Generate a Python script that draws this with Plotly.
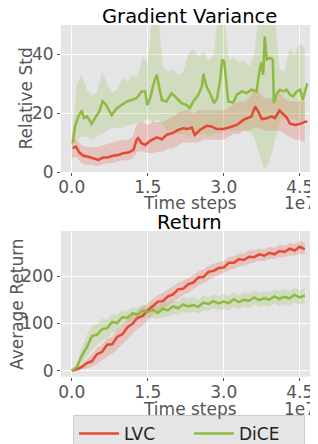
import plotly.graph_objects as go

# ---------------- data (x in units of 1e7 time steps) ----------------
# Gradient Variance (top) – mean curves
lvc_var_x = [0.02, 0.085, 0.15, 0.23, 0.33, 0.43, 0.525, 0.62, 0.72, 0.82, 0.92, 1.02, 1.12, 1.22, 1.28, 1.31,
             1.38, 1.45, 1.55, 1.68, 1.78, 1.87, 2.01, 2.10, 2.20, 2.28, 2.37, 2.43, 2.53, 2.66, 2.76, 2.86,
             2.99, 3.12, 3.26, 3.39, 3.49, 3.55, 3.62, 3.68, 3.75, 3.85, 3.95, 4.01, 4.10, 4.18, 4.24, 4.31,
             4.41, 4.51, 4.60, 4.65]
lvc_var_y = [8.1, 8.6, 6.6, 5.5, 5.2, 4.7, 4.1, 4.9, 5.0, 5.5, 5.8, 6.4, 6.6, 7.5, 10.9, 11.5,
             9.8, 9.2, 10.6, 11.8, 11.1, 12.6, 13.4, 14.3, 14.9, 14.6, 15.1, 12.6, 14.3, 15.7, 15.5, 14.6,
             14.6, 15.2, 16.0, 17.7, 18.5, 18.9, 22.3, 20.6, 18.0, 18.3, 18.9, 18.3, 20.9, 19.4, 18.6, 16.4,
             16.0, 16.4, 17.1, 17.1]
dice_var_x = [0.02, 0.065, 0.13, 0.20, 0.24, 0.30, 0.35, 0.39, 0.46, 0.545, 0.61, 0.68, 0.76, 0.79, 0.89, 0.99,
              1.09, 1.18, 1.28, 1.38, 1.45, 1.49, 1.55, 1.62, 1.68, 1.73, 1.78, 1.87, 1.97, 2.07, 2.17, 2.27,
              2.33, 2.40, 2.50, 2.57, 2.60, 2.66, 2.73, 2.81, 2.87, 2.93, 2.97, 3.01, 3.06, 3.09, 3.19, 3.26,
              3.36, 3.45, 3.55, 3.65, 3.70, 3.74, 3.78, 3.81, 3.85, 3.91, 3.97, 3.99, 4.05, 4.11, 4.18, 4.24,
              4.31, 4.37, 4.44, 4.51, 4.56, 4.60, 4.65]
dice_var_y = [9.8, 15.4, 18.9, 20.9, 18.3, 18.9, 17.7, 16.4, 18.3, 20.6, 24.0, 22.8, 20.2, 19.4, 21.7, 22.8,
              24.0, 24.5, 25.1, 27.4, 27.4, 22.8, 25.1, 30.2, 33.1, 28.5, 24.5, 24.0, 26.8, 25.1, 23.4, 22.8,
              21.7, 24.0, 26.3, 29.1, 33.4, 29.1, 26.8, 23.4, 25.1, 31.4, 38.2, 37.6, 29.1, 24.0, 23.6, 26.3,
              27.4, 26.8, 28.0, 27.4, 33.7, 37.3, 33.1, 46.1, 38.2, 38.8, 38.2, 23.4, 26.8, 28.0, 27.4, 28.0,
              26.3, 25.7, 27.4, 28.0, 24.5, 27.4, 30.2]

# Gradient Variance – shaded bands (x grid 0.0 .. 4.6 step 0.1)
band_x = [0.0, 0.1, 0.2, 0.3, 0.4, 0.5, 0.6, 0.7, 0.8, 0.9, 1.0, 1.1, 1.2, 1.3, 1.4, 1.5, 1.6, 1.7, 1.8, 1.9,
          2.0, 2.1, 2.2, 2.3, 2.4, 2.5, 2.6, 2.7, 2.8, 2.9, 3.0, 3.1, 3.2, 3.3, 3.4, 3.5, 3.6, 3.7, 3.8, 3.9,
          4.0, 4.1, 4.2, 4.3, 4.4, 4.5, 4.6]
lvc_var_lo = [5, 5, 3, 2.5, 2.5, 2, 2.5, 3, 3, 3.5, 4, 4, 4.5, 7, 7, 6.5, 6.5, 7, 7, 8,
              8, 9, 10, 10, 10, 10, 11, 11, 11, 11, 11, 12, 13, 13, 14, 14, 15, 15, 14, 14,
              14, 14, 13, 12, 11, 11, 10]
lvc_var_hi = [12, 11, 9, 8.5, 8.5, 8.5, 9, 9.5, 10, 10.5, 11, 11, 12, 17, 17, 16, 17, 17, 17, 18,
              19, 20, 21, 21, 20, 21, 21, 21, 21, 21, 21, 22, 23, 24, 24, 25, 28, 27, 25, 25,
              26, 27, 25, 24, 24, 24, 24]
dice_var_lo = [9, 11, 12, 12, 11, 12, 13, 14, 15, 15, 15, 16, 16, 17, 17, 18, 17, 18, 16, 14,
               13, 13, 13, 12, 13, 13, 13, 12, 13, 13, 14, 14, 14, 14, 14, 14, 12, 6, 1, 3,
               10, 17, 18, 18, 18, 17, 18]
dice_var_hi = [12, 30, 33, 28, 26, 27, 34, 30, 27, 28, 32, 31, 33, 32, 39, 37, 55, 55, 36, 34,
               35, 33, 34, 40, 42, 39, 41, 38, 40, 55, 55, 38, 39, 37, 38, 36, 40, 55, 55, 55,
               55, 35, 34, 42, 40, 44, 42]

# Return (bottom) – x grid 0.0 .. 4.6 step 0.1
ret_x = band_x
lvc_ret = [0, 3, 8, 16, 20, 35, 40, 55, 56, 72, 77, 92, 99, 112, 116, 128, 136, 146, 147, 157,
           161, 172, 173, 183, 186, 197, 198, 209, 211, 217, 218, 228, 228, 236, 234, 241, 240, 246, 243, 249,
           246, 253, 251, 258, 254, 262, 257]
lvc_ret_lo = [0, 0, 2, 5, 8, 15, 22, 30, 36, 45, 55, 66, 78, 88, 95, 105, 118, 126, 132, 138,
              146, 152, 160, 165, 172, 180, 185, 192, 198, 202, 206, 212, 216, 220, 222, 226, 229, 232, 232, 236,
              236, 240, 240, 244, 244, 246, 246]
lvc_ret_hi = [0, 6, 14, 25, 34, 48, 55, 68, 72, 88, 96, 108, 118, 128, 135, 142, 152, 160, 164, 172,
              178, 186, 190, 196, 202, 210, 214, 222, 226, 230, 232, 240, 242, 248, 248, 254, 255, 258, 256, 262,
              260, 266, 264, 270, 268, 275, 270]
dice_ret = [0, 8, 32, 50, 73, 76, 88, 90, 103, 101, 113, 112, 121, 119, 127, 124, 129, 122, 131, 128,
            136, 132, 140, 136, 139, 135, 144, 141, 147, 142, 146, 143, 151, 145, 150, 148, 155, 149, 153, 150,
            157, 152, 156, 153, 160, 155, 159]
dice_ret_lo = [0, 2, 15, 30, 45, 55, 62, 70, 80, 86, 95, 100, 106, 108, 112, 112, 112, 110, 114, 115,
               120, 118, 124, 122, 124, 120, 128, 126, 132, 128, 130, 128, 136, 130, 135, 132, 140, 134, 138, 135,
               142, 136, 140, 138, 144, 140, 142]
dice_ret_hi = [0, 14, 50, 75, 95, 98, 110, 108, 120, 118, 128, 126, 134, 132, 140, 136, 142, 136, 146, 142,
               150, 146, 156, 152, 156, 150, 160, 156, 162, 158, 162, 158, 166, 160, 166, 164, 170, 165, 168, 166,
               172, 168, 172, 168, 176, 170, 175]

tick_vals = [0.0, 1.5, 3.0, 4.5]
tick_text = ["0.0", "1.5", "3.0", "4.5"]
series_names = ["LVC", "DiCE"]

# ---------------- styling ----------------
OFF = 8            # page body margin
W, H = 332, 472    # figure a bit larger than the window; the window crops it like the reference
RED, GREEN = "#E24A33", "#8EBA42"
RED_F, GREEN_F = "rgba(226,74,51,0.22)", "rgba(142,186,66,0.22)"
FONT = "DejaVu Sans"
TICK_C = "#555555"
SCALE = 1e7

def px(p):  # page pixel -> paper x
    return (p - OFF) / W

def py(p):  # page pixel -> paper y
    return 1 - (p - OFF) / H

fig = go.Figure()

def band(x, lo, hi, color, xa, ya):
    xs = [v * SCALE for v in x]
    fig.add_trace(go.Scatter(x=xs, y=lo, mode="lines", line=dict(width=0), hoverinfo="skip",
                             showlegend=False, xaxis=xa, yaxis=ya))
    fig.add_trace(go.Scatter(x=xs, y=hi, mode="lines", line=dict(width=0), fill="tonexty",
                             fillcolor=color, hoverinfo="skip", showlegend=False, xaxis=xa, yaxis=ya))

def line(x, y, color, name, xa, ya, legend):
    fig.add_trace(go.Scatter(x=[v * SCALE for v in x], y=y, mode="lines", name=name,
                             line=dict(color=color, width=2.5), showlegend=legend, xaxis=xa, yaxis=ya))

# top
band(band_x, lvc_var_lo, lvc_var_hi, RED_F, "x", "y")
band(band_x, dice_var_lo, dice_var_hi, GREEN_F, "x", "y")
line(lvc_var_x, lvc_var_y, RED, series_names[0], "x", "y", False)
line(dice_var_x, dice_var_y, GREEN, series_names[1], "x", "y", False)
# bottom
band(ret_x, lvc_ret_lo, lvc_ret_hi, RED_F, "x2", "y2")
band(ret_x, dice_ret_lo, dice_ret_hi, GREEN_F, "x2", "y2")
line(ret_x, lvc_ret, RED, series_names[0], "x2", "y2", True)
line(ret_x, dice_ret, GREEN, series_names[1], "x2", "y2", True)

xrange = [(61 - 71.7) / 76 * 1.5 * SCALE, (318 - 71.7) / 76 * 1.5 * SCALE]
axis_common = dict(showgrid=True, gridcolor="white", gridwidth=1.2, zeroline=False, showline=False,
                   ticks="outside", ticklen=3, tickcolor=TICK_C, tickwidth=1, automargin=False,
                   tickfont=dict(family=FONT, size=17, color=TICK_C))
xdom = [px(61), px(318)]
fig.update_layout(
    width=W, height=H, margin=dict(l=0, r=0, t=0, b=0),
    paper_bgcolor="white", plot_bgcolor="#E5E5E5",
    font=dict(family=FONT),
    xaxis=dict(domain=xdom, range=xrange, tickvals=[v * SCALE for v in tick_vals], ticktext=tick_text,
               anchor="y", ticklabelstandoff=-3, **axis_common),
    yaxis=dict(domain=[py(172), py(25)], range=[0, 50], tickvals=[0, 20, 40], anchor="x", **axis_common),
    xaxis2=dict(domain=xdom, range=xrange, tickvals=[v * SCALE for v in tick_vals], ticktext=tick_text,
                anchor="y2", ticklabelstandoff=-3, **axis_common),
    yaxis2=dict(domain=[py(376.7), py(231)], range=[-12.7, 295.3], tickvals=[0, 100, 200], anchor="x2",
                **axis_common),
    legend=dict(orientation="h", x=px(73), xanchor="left", y=py(415), yanchor="top",
                traceorder="normal",
                bgcolor="#E5E5E5", bordercolor="#CCCCCC", borderwidth=1,
                font=dict(family=FONT, size=17, color="#222222"), entrywidth=60, itemwidth=40),
)

def ann(text, x, y, size, color, angle=0, xanchor="center"):
    fig.add_annotation(text=text, x=px(x), y=py(y), xref="paper", yref="paper", showarrow=False,
                       font=dict(family=FONT, size=size, color=color), textangle=angle,
                       xanchor=xanchor, yanchor="middle", borderpad=0)

ann("Gradient Variance", 189.5, 17, 19.5, "black")
ann("Return", 189.5, 222, 19.5, "black")
ann("Relative Std", 25, 98.5, 17, TICK_C, -90)
ann("Average Return", 17, 304, 17, TICK_C, -90)
ann("Time steps", 190, 203, 17, TICK_C)
ann("Time steps", 190, 409, 17, TICK_C)
ann("1e7", 317, 203, 17, TICK_C, xanchor="right")
ann("1e7", 317, 409, 17, TICK_C, xanchor="right")

fig.write_html("out.html", config={"displayModeBar": False})
